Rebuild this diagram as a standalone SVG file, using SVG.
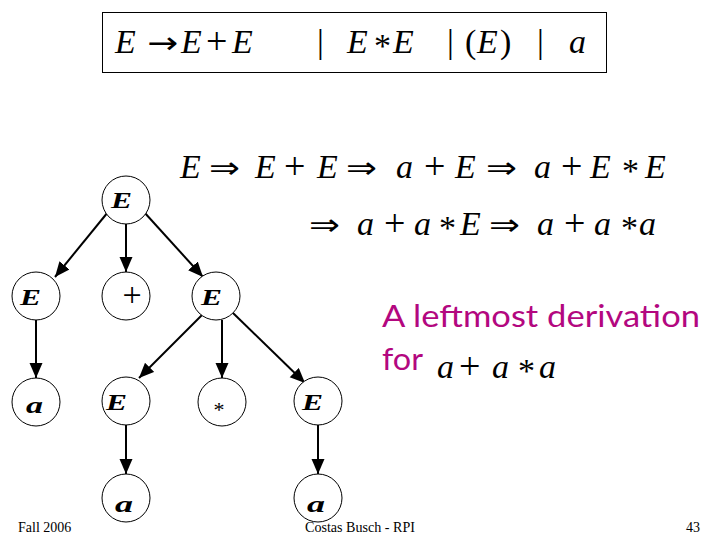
<svg xmlns="http://www.w3.org/2000/svg" width="720" height="540" viewBox="0 0 720 540">
<style>
.node circle{fill:#fff;stroke:#000;stroke-width:1}
.lbl{font-family:"Liberation Serif","Times New Roman",serif;font-style:italic;font-weight:bold;font-size:24px}
.op{font-family:"Liberation Serif","Times New Roman",serif}
.m{font-family:"Liberation Serif","DejaVu Serif",serif;font-size:34px}
.mi{font-style:italic}
.pl{font-size:38px}
.ar{font-family:"DejaVu Sans",sans-serif;font-size:30px}
.comic{font-family:"Lato","DejaVu Sans",sans-serif;fill:#B3077F;font-size:30px}
.foot{font-family:"Liberation Serif","Times New Roman",serif;font-size:14px}
.edge{stroke:#000;stroke-width:2;fill:none;marker-end:url(#arr)}
</style>
<defs>
<marker id="arr" markerUnits="userSpaceOnUse" markerWidth="16" markerHeight="14" refX="15" refY="6.5" orient="auto">
<path d="M0,0 L15,6.5 L0,13 z" fill="#000"/>
</marker>
</defs>
<rect width="720" height="540" fill="#fff"/>

<g id="grammar">
<rect x="102.5" y="12.5" width="504" height="60" fill="none" stroke="#000" stroke-width="1"/>
<g class="m">
<text x="115" y="53" class="mi">E</text>
<text x="147" y="53" class="ar" textLength="31" lengthAdjust="spacingAndGlyphs">→</text>
<text x="181" y="53" class="mi">E</text>
<text x="206" y="54" class="pl">+</text>
<text x="232" y="53" class="mi">E</text>
<text x="317" y="53">|</text>
<text x="347" y="53" class="mi">E</text>
<text x="374" y="57">*</text>
<text x="393" y="53" class="mi">E</text>
<text x="447" y="53">|</text>
<text x="465" y="53">(</text>
<text x="477" y="53" class="mi">E</text>
<text x="500" y="53">)</text>
<text x="537" y="53">|</text>
<text x="569" y="53" class="mi">a</text>
</g>
</g>

<g id="derivation" class="m">
<text x="180" y="178" class="mi">E</text>
<text x="209" y="178" class="ar" textLength="31" lengthAdjust="spacingAndGlyphs">⇒</text>
<text x="255" y="178" class="mi">E</text>
<text x="284" y="179" class="pl">+</text>
<text x="317" y="178" class="mi">E</text>
<text x="346" y="178" class="ar" textLength="31" lengthAdjust="spacingAndGlyphs">⇒</text>
<text x="396" y="178" class="mi">a</text>
<text x="424" y="179" class="pl">+</text>
<text x="455" y="178" class="mi">E</text>
<text x="486" y="178" class="ar" textLength="31" lengthAdjust="spacingAndGlyphs">⇒</text>
<text x="534" y="178" class="mi">a</text>
<text x="561" y="179" class="pl">+</text>
<text x="590" y="178" class="mi">E</text>
<text x="622" y="182">*</text>
<text x="645" y="178" class="mi">E</text>

<text x="309" y="235" class="ar" textLength="31" lengthAdjust="spacingAndGlyphs">⇒</text>
<text x="357" y="235" class="mi">a</text>
<text x="384" y="236" class="pl">+</text>
<text x="414" y="235" class="mi">a</text>
<text x="439" y="239">*</text>
<text x="460" y="235" class="mi">E</text>
<text x="489" y="235" class="ar" textLength="31" lengthAdjust="spacingAndGlyphs">⇒</text>
<text x="537" y="235" class="mi">a</text>
<text x="564" y="236" class="pl">+</text>
<text x="594" y="235" class="mi">a</text>
<text x="621" y="239">*</text>
<text x="639" y="235" class="mi">a</text>
</g>

<g id="caption">
<text x="382" y="327" class="comic" textLength="318" lengthAdjust="spacingAndGlyphs">A leftmost derivation</text>
<text x="382" y="370" class="comic" textLength="41" lengthAdjust="spacingAndGlyphs">for</text>
<g class="m">
<text x="437" y="378" class="mi">a</text>
<text x="459" y="379" class="pl">+</text>
<text x="492" y="378" class="mi">a</text>
<text x="518" y="382">*</text>
<text x="539" y="378" class="mi">a</text>
</g>
</g>

<g id="connectors">
<line class="edge" x1="108" y1="212" x2="55" y2="277"/>
<line class="edge" x1="126" y1="224" x2="126" y2="272"/>
<line class="edge" x1="144" y1="212" x2="203" y2="277"/>
<line class="edge" x1="36" y1="320" x2="36" y2="378"/>
<line class="edge" x1="203" y1="314" x2="139" y2="378"/>
<line class="edge" x1="222" y1="320" x2="222" y2="378"/>
<line class="edge" x1="233" y1="313" x2="305" y2="383"/>
<line class="edge" x1="126" y1="425" x2="126" y2="474"/>
<line class="edge" x1="318" y1="425" x2="318" y2="474"/>
</g>

<g id="n_root" class="node"><circle cx="126" cy="200" r="24"/><text class="lbl" x="111" y="208" textLength="21" lengthAdjust="spacingAndGlyphs">E</text></g>
<g id="n_E1" class="node"><circle cx="36" cy="296" r="24"/><text class="lbl" x="20" y="305" textLength="21" lengthAdjust="spacingAndGlyphs">E</text></g>
<g id="n_plus" class="node"><circle cx="126" cy="296" r="24"/><text class="op" x="132" y="306" text-anchor="middle" style="font-size:34px">+</text></g>
<g id="n_E2" class="node"><circle cx="216" cy="296" r="24"/><text class="lbl" x="201" y="305" textLength="21" lengthAdjust="spacingAndGlyphs">E</text></g>
<g id="n_a1" class="node"><circle cx="36" cy="402" r="24"/><text class="lbl" x="26" y="413" textLength="17" lengthAdjust="spacingAndGlyphs">a</text></g>
<g id="n_E3" class="node"><circle cx="126" cy="401" r="24"/><text class="lbl" x="106" y="410" textLength="21" lengthAdjust="spacingAndGlyphs">E</text></g>
<g id="n_star" class="node"><circle cx="222" cy="402" r="24"/><text class="op" x="219" y="417" text-anchor="middle" style="font-size:22px">*</text></g>
<g id="n_E4" class="node"><circle cx="318" cy="401" r="24"/><text class="lbl" x="302" y="410" textLength="21" lengthAdjust="spacingAndGlyphs">E</text></g>
<g id="n_a2" class="node"><circle cx="126" cy="498" r="24"/><text class="lbl" x="115" y="512" textLength="18" lengthAdjust="spacingAndGlyphs">a</text></g>
<g id="n_a3" class="node"><circle cx="318" cy="498" r="24"/><text class="lbl" x="307" y="512" textLength="18" lengthAdjust="spacingAndGlyphs">a</text></g>

<g id="footer" class="foot">
<text x="18" y="532">Fall 2006</text>
<text x="305" y="532" textLength="110" lengthAdjust="spacingAndGlyphs">Costas Busch - RPI</text>
<text x="686" y="532">43</text>
</g>
</svg>
